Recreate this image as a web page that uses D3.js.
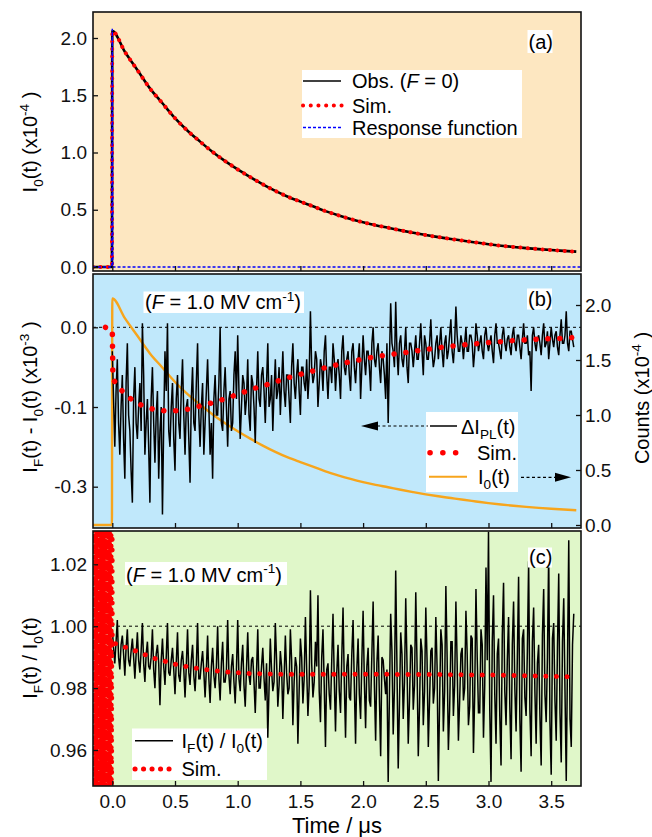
<!DOCTYPE html>
<html>
<head>
<meta charset="utf-8">
<script src="https://cdn.jsdelivr.net/npm/d3@7"></script>
<style>
  body { margin: 0; background: #fff; }
  svg { display: block; font-family: Arial, "Liberation Sans", sans-serif; }
</style>
</head>
<body>
<svg id="chart" width="652" height="837"></svg>
<script>
// ---- data ----
// I0(t) decay, x10^-4 counts (panel a, and orange trace in panel b)
const decayT = [-0.154, -0.003, 0.0, 0.1, 0.2, 0.3, 0.4, 0.5, 0.6, 0.7, 0.8, 0.9, 1.0, 1.1, 1.2, 1.3, 1.4, 1.5, 1.6, 1.7, 1.8, 1.9,
  2.0, 2.1, 2.2, 2.3, 2.4, 2.5, 2.6, 2.7, 2.8, 2.9, 3.0, 3.1, 3.2, 3.3, 3.4, 3.5, 3.6, 3.7];
const decayI0 = [0, 0, 2.06, 1.88, 1.72, 1.56, 1.43, 1.30, 1.19, 1.095, 1.005, 0.925, 0.852, 0.785, 0.722, 0.665, 0.614, 0.571, 0.53, 0.488, 0.452, 0.419,
  0.39, 0.365, 0.343, 0.32, 0.299, 0.279, 0.261, 0.245, 0.229, 0.214, 0.199, 0.186, 0.175, 0.165, 0.156, 0.148, 0.141, 0.134];

// instrument response function
const respT = [-0.154, -0.003, 0.0, 0.004, 3.74];
const respV = [0, 0, 2.08, 0, 0];

// panel b: simulated dI_PL (x10^-3)
const simBT = [-0.055, 0.0, 0.005, 0.06, 0.14, 0.23, 0.33, 0.42, 0.51, 0.61, 0.70, 0.79, 0.885, 0.98, 1.07, 1.16, 1.26, 1.35, 1.44,
  1.54, 1.63, 1.72, 1.82, 1.91, 2.0, 2.09, 2.19, 2.29, 2.38, 2.47, 2.57, 2.66, 2.75, 2.85, 2.94, 3.03, 3.13, 3.22, 3.32, 3.41, 3.50, 3.60, 3.69];
const simBV = [0, -0.003, -0.065, -0.077, -0.089, -0.0975, -0.103, -0.105, -0.1046, -0.1025, -0.0988, -0.095, -0.0904, -0.0853, -0.080,
  -0.0753, -0.0707, -0.0657, -0.0615, -0.0573, -0.0536, -0.0498, -0.046, -0.0427, -0.040, -0.037, -0.0348, -0.0327, -0.0306, -0.0285,
  -0.0264, -0.0243, -0.023, -0.0213, -0.020, -0.0188, -0.0176, -0.0163, -0.0155, -0.0147, -0.0143, -0.0138, -0.0126];

// panel b: observed dI_PL at t = 0, 0.02, 0.04 ... us
const obsB = [
  -0.03, -0.15, -0.04, -0.16, -0.06, -0.19, -0.02, -0.13, -0.22, -0.05,
  -0.14, -0.07, 0.005, -0.16, -0.09, -0.22, -0.05, -0.17, -0.08, -0.13,
  -0.235, -0.03, 0.005, -0.15, -0.07, -0.18, -0.06, -0.14, -0.04, -0.16,
  -0.09, -0.195, -0.05, -0.13, -0.02, -0.15, -0.07, -0.12, -0.04, -0.16,
  -0.19, -0.06, -0.11, 0.0, -0.13, -0.05, -0.15, -0.08, -0.12, -0.03,
  -0.01, -0.14, -0.06, -0.11, -0.04, -0.13, -0.07, -0.145, -0.03, -0.10,
  -0.05, -0.12, -0.02, -0.09, -0.13, -0.04, -0.08, -0.11, -0.03, -0.10,
  -0.06, -0.12, -0.02, -0.09, -0.04, -0.11, -0.05, -0.08, -0.09, 0.02,
  -0.07, -0.03, -0.10, -0.04, -0.08, -0.01, -0.09, -0.05, -0.02, -0.08,
  -0.04, -0.09, -0.01, -0.06, -0.03, -0.08, -0.02, -0.07, -0.04, -0.09,
  -0.01, -0.06, -0.03, -0.08, 0.00, -0.05, -0.02, -0.07, -0.04, -0.09,
  -0.12, 0.03, -0.03, 0.032, -0.06, -0.01, -0.05, 0.00, -0.07, -0.02,
  -0.05, -0.01, -0.04, 0.005, -0.06, -0.02, -0.04, 0.01, -0.05, -0.02,
  -0.04, 0.00, -0.05, -0.01, -0.03, 0.01, -0.045, 0.026, -0.03, -0.01,
  -0.04, 0.00, -0.03, -0.01, -0.05, 0.005, -0.03, -0.01, -0.04, 0.00,
  -0.03, -0.01, -0.045, 0.005, -0.02, -0.04, 0.00, -0.03, -0.01, -0.035,
  0.00, -0.03, -0.01, -0.04, 0.005, -0.02, -0.035, -0.08, 0.00, -0.03,
  -0.01, -0.035, 0.005, -0.02, -0.04, 0.00, -0.025, -0.005, -0.035, 0.01,
  -0.02, 0.02, -0.03, -0.005, -0.025
];
// panel b: observed dI_PL at t = 0.01, 0.03, 0.05 ... us
const obsBMid = [
  -0.09, -0.08, -0.12, -0.10, -0.14, -0.07, -0.11, -0.18, -0.09, -0.12,
  -0.10, -0.13, -0.06, -0.12, -0.15, -0.09, -0.12, -0.11, -0.19, -0.10,
  -0.12, -0.08, -0.13, -0.10, -0.14, -0.09, -0.12, -0.08, -0.11, -0.10,
  -0.14, -0.09, -0.12, -0.07, -0.11, -0.10, -0.16, -0.08, -0.10, -0.12,
  -0.09, -0.11, -0.07, -0.12, -0.08, -0.10, -0.09, -0.13, -0.06, -0.09,
  -0.08, -0.10, -0.07, -0.09, -0.11, -0.06, -0.10, -0.08, -0.09, -0.06,
  -0.08, -0.07, -0.10, -0.06, -0.08, -0.09, -0.05, -0.07, -0.08, -0.06,
  -0.09, -0.05, -0.07, -0.06, -0.08, -0.05, -0.07, -0.04, -0.06, -0.05,
  -0.06, -0.04, -0.07, -0.05, -0.03, -0.06, -0.05, -0.07, -0.04, -0.05,
  -0.06, -0.03, -0.05, -0.04, -0.06, -0.03, -0.05, -0.04, -0.02, -0.05,
  -0.04, -0.03, -0.05, -0.02, -0.04, -0.03, -0.05, -0.03, -0.06, -0.02,
  -0.04, -0.02, -0.05, -0.03, -0.02, -0.04, -0.03, -0.05, -0.02, -0.03,
  -0.03, -0.04, -0.02, -0.03, -0.01, -0.04, -0.02, -0.03, -0.04, -0.01,
  -0.02, -0.03, -0.02, -0.04, -0.01, -0.03, -0.02, -0.01, -0.03, -0.02,
  -0.02, -0.03, -0.01, -0.02, -0.03, -0.01, -0.02, -0.03, -0.01, -0.02,
  -0.02, -0.03, -0.01, -0.02, -0.03, -0.01, -0.02, -0.015, -0.025, -0.01,
  -0.02, -0.01, -0.025, -0.015, -0.02, -0.01, -0.03, -0.01, -0.02, -0.015,
  -0.02, -0.01, -0.025, -0.005, -0.02, -0.015, -0.01, -0.025, -0.01, -0.02,
  -0.01, -0.02, -0.005, -0.015
];

// panel c: simulated IF/I0 (negative times blow up)
const simCT = [-0.152, -0.147, -0.142, -0.137, -0.132, -0.127, -0.122, -0.117, -0.112, -0.107, -0.102, -0.097, -0.092, -0.087, -0.082,
  -0.077, -0.072, -0.067, -0.062, -0.057, -0.052, -0.047, -0.042, -0.037, -0.032, -0.027, -0.022, -0.017, -0.012, -0.007, -0.002,
  0.0, 0.02, 0.17, 0.34, 0.53, 0.73, 0.91, 1.10, 1.36, 1.84, 2.5, 3.07, 3.70];
const simCV = [1.12, 0.87, 1.09, 0.90, 1.15, 0.86, 1.10, 0.89, 1.13, 0.88, 1.08, 0.91, 1.14, 0.87, 1.11,
  0.89, 1.12, 0.86, 1.09, 0.90, 1.13, 0.88, 1.10, 0.87, 1.12, 0.91, 1.08, 0.88, 1.14, 0.89, 1.10,
  0.9950, 0.9944, 0.99225, 0.98956, 0.9874, 0.9860, 0.98524, 0.9847, 0.9845, 0.9845, 0.9844, 0.9842, 0.98362];

// panel c: observed IF/I0 at t = 0, 0.02, 0.04 ... us
const obsC = [
  0.999, 0.988, 1.002, 0.986, 0.997, 0.984, 0.999, 0.987, 0.996, 0.983,
  0.998, 0.985, 1.001, 0.982, 0.995, 0.986, 0.999, 0.980, 0.994, 0.9745,
  0.996, 0.981, 1.001, 0.984, 0.993, 0.978, 0.998, 0.982, 0.992, 0.977,
  0.999, 0.981, 0.994, 0.979, 1.001, 0.983, 0.992, 0.977, 0.997, 0.9752,
  0.993, 0.980, 1.000, 0.976, 0.995, 0.982, 1.002, 0.978, 0.991, 0.975,
  1.002, 0.979, 0.994, 0.974, 0.998, 0.981, 0.990, 0.972, 0.999, 0.980,
  0.993, 0.976, 0.964, 0.996, 0.979, 1.001, 0.974, 0.992, 0.970, 0.997,
  0.978, 0.999, 0.968, 0.990, 0.962, 0.996, 0.975, 1.003, 0.971, 1.0116,
  0.977, 0.995, 1.010, 0.969, 0.999, 0.961, 0.988, 0.973, 1.004, 0.966,
  0.994, 0.972, 1.006, 0.964, 0.991, 0.976, 1.002, 0.962, 0.996, 0.970,
  1.005, 0.967, 0.993, 0.974, 1.008, 0.963, 0.997, 0.958, 0.989, 0.978,
  0.9497, 1.004, 0.965, 1.018, 0.954, 0.998, 0.970, 1.009, 0.962, 0.994,
  0.973, 1.011, 0.958, 0.996, 0.968, 1.006, 0.961, 0.992, 0.975, 1.003,
  0.950, 0.999, 0.966, 1.013, 0.960, 0.995, 0.971, 1.008, 0.963, 0.991,
  0.976, 1.005, 0.968, 0.997, 0.959, 1.012, 0.972, 0.999, 0.964, 1.019,
  1.0305, 0.9497, 1.010, 0.962, 0.996, 0.955, 1.014, 0.968, 1.003, 0.957,
  1.008, 0.966, 1.016, 0.953, 0.999, 0.971, 1.021, 0.958, 1.006, 0.962,
  0.994, 0.955, 1.012, 0.969, 1.024, 0.952, 1.001, 0.963, 1.017, 0.956,
  1.009, 0.950, 1.0278, 0.961, 1.004
];
// panel c: observed IF/I0 at t = 0.01, 0.03, 0.05 ... us
const obsCMid = [
  0.993, 0.995, 0.990, 0.994, 0.991, 0.993, 0.989, 0.992, 0.990, 0.991,
  0.989, 0.992, 0.988, 0.991, 0.987, 0.990, 0.986, 0.991, 0.988, 0.989,
  0.987, 0.990, 0.985, 0.989, 0.986, 0.988, 0.984, 0.989, 0.986, 0.987,
  0.985, 0.989, 0.984, 0.987, 0.983, 0.988, 0.985, 0.986, 0.983, 0.987,
  0.984, 0.987, 0.983, 0.988, 0.982, 0.986, 0.984, 0.987, 0.982, 0.986,
  0.983, 0.988, 0.981, 0.986, 0.984, 0.989, 0.982, 0.985, 0.980, 0.987,
  0.983, 0.988, 0.980, 0.986, 0.982, 0.989, 0.981, 0.987, 0.983, 0.985,
  0.980, 0.989, 0.982, 0.987, 0.979, 0.990, 0.983, 0.986, 0.981, 0.988,
  0.982, 0.987, 0.979, 0.990, 0.981, 0.986, 0.978, 0.989, 0.983, 0.985,
  0.979, 0.990, 0.982, 0.987, 0.977, 0.991, 0.981, 0.986, 0.978, 0.989,
  0.982, 0.987, 0.976, 0.991, 0.981, 0.988, 0.977, 0.990, 0.983, 0.986,
  0.978, 0.992, 0.980, 0.987, 0.975, 0.991, 0.982, 0.988, 0.976, 0.993,
  0.981, 0.988, 0.974, 0.992, 0.979, 0.989, 0.976, 0.993, 0.980, 0.987,
  0.975, 0.994, 0.979, 0.990, 0.973, 0.995, 0.981, 0.988, 0.976, 0.993,
  0.980, 0.991, 0.974, 0.996, 0.978, 0.990, 0.972, 0.994, 0.981, 0.989,
  0.973, 0.995, 0.978, 0.991, 0.971, 0.997, 0.979, 0.989, 0.974, 0.994,
  0.980, 0.990, 0.970, 0.996, 0.977, 0.992, 0.973, 0.995, 0.979, 0.988,
  0.971, 0.997, 0.978, 0.990, 0.969, 0.996, 0.976, 0.993, 0.972, 0.995,
  0.979, 0.989, 0.970, 0.994
];
const obsStep = 0.02;

// ticks
const xTicks = [0, 0.5, 1, 1.5, 2, 2.5, 3, 3.5];
const aTicks = [0, 0.5, 1, 1.5, 2];
const bLeftTicks = [0, -0.1, -0.2];
const bLeftLabels = ["0.0", "-0.1", "-0.3"];
const bRightTicks = [0, 0.5, 1, 1.5, 2];
const cTicks = [0.96, 0.98, 1.00, 1.02];

// ---- layout ----
const svg = d3.select("#chart");
const L = 93, R = 581;
const pa = { top: 12, bottom: 271, fill: "#fde7c1" };
const pb = { top: 274, bottom: 528, fill: "#c0e8fb" };
const pc = { top: 531, bottom: 786, fill: "#e0f7c9" };

const x = d3.scaleLinear().domain([0, 3.5]).range([112.3, 551.2]);
const ya = d3.scaleLinear().domain([0, 2]).range([267, 38]);
const ybL = d3.scaleLinear().domain([0, -0.1]).range([327.3, 407]);
const ybR = d3.scaleLinear().domain([0, 2]).range([525, 305]);
const yc = d3.scaleLinear().domain([0.96, 1.02]).range([750, 564.3]);

const RED = "#ff0000", BLUE = "#0000ff", ORANGE = "#f7a51c";

function path(ts, vs, y, curve) {
  const ln = d3.line().x(d => x(d[0])).y(d => y(d[1]));
  if (curve) ln.curve(curve);
  return ln(ts.map((t, i) => [t, vs[i]]));
}

// interleave the even- and odd-sample arrays into one trace
function merge(even, odd) {
  const ts = [], vs = [];
  even.forEach((v, i) => {
    ts.push(i * obsStep); vs.push(v);
    if (i < odd.length) { ts.push(i * obsStep + obsStep / 2); vs.push(odd[i]); }
  });
  return [ts, vs];
}

function rich(sel, parts, fs) {
  let shift = 0;
  parts.forEach(([s, k]) => {
    const target = k === "sub" ? 0.28 * fs : k === "sup" ? -0.42 * fs : 0;
    const ts = sel.append("tspan").text(s).attr("dy", target - shift);
    if (k === "sub" || k === "sup") ts.attr("font-size", fs * 0.68);
    if (k === "i") ts.attr("font-style", "italic");
    shift = target;
  });
  return sel;
}

function panel(p, id) {
  svg.append("rect").attr("x", L).attr("y", p.top).attr("width", R - L).attr("height", p.bottom - p.top)
    .attr("fill", p.fill);
  svg.append("clipPath").attr("id", id).append("rect")
    .attr("x", L).attr("y", p.top).attr("width", R - L).attr("height", p.bottom - p.top);
  return svg.append("g").attr("clip-path", `url(#${id})`);
}

function frame(p) {
  svg.append("rect").attr("x", L).attr("y", p.top).attr("width", R - L).attr("height", p.bottom - p.top)
    .attr("fill", "none").attr("stroke", "#111").attr("stroke-width", 1.6);
}

function styleAxis(g) {
  g.select(".domain").remove();
  g.selectAll(".tick line").attr("stroke", "#111").attr("stroke-width", 1.3);
  g.selectAll(".tick text").attr("font-size", 19).attr("fill", "#111")
    .attr("font-family", 'Arial, "Liberation Sans", sans-serif');
}

function xAxis(p, labels) {
  const g = svg.append("g").attr("transform", `translate(0,${p.bottom})`)
    .call(d3.axisBottom(x).tickValues(xTicks).tickSize(-5).tickPadding(9)
      .tickFormat(labels ? d3.format(".1f") : () => ""));
  styleAxis(g);
}

function yAxisLeft(y, ticks, fmt) {
  const g = svg.append("g").attr("transform", `translate(${L},0)`)
    .call(d3.axisLeft(y).tickValues(ticks).tickSize(-5).tickPadding(6).tickFormat(fmt));
  styleAxis(g);
}

function labelBox(px, py, w, h, txt) {
  svg.append("rect").attr("x", px).attr("y", py).attr("width", w).attr("height", h).attr("fill", "#fff");
  svg.append("text").attr("x", px + 1).attr("y", py + h - 4).attr("font-size", 20).text(txt);
}

// ================= panel (a) =================
const ga = panel(pa, "clipA");
ga.append("path").attr("d", path(decayT, decayI0, ya, d3.curveMonotoneX))
  .attr("fill", "none").attr("stroke", "#000").attr("stroke-width", 2.6);
ga.append("path").attr("d", path(decayT, decayI0, ya, d3.curveMonotoneX))
  .attr("fill", "none").attr("stroke", RED).attr("stroke-width", 4)
  .attr("stroke-linecap", "round").attr("stroke-dasharray", "0.1 7.3");
ga.append("path").attr("d", path(respT, respV, ya))
  .attr("fill", "none").attr("stroke", BLUE).attr("stroke-width", 1.5).attr("stroke-dasharray", "3 2");
frame(pa);
xAxis(pa, false);
yAxisLeft(ya, aTicks, d3.format(".1f"));

// legend (a)
svg.append("rect").attr("x", 302).attr("y", 70).attr("width", 220).attr("height", 68).attr("fill", "#fff");
const legA = [
  { y: 81, parts: [["Obs. ("], ["F", "i"], [" = 0)"]] },
  { y: 105.5, parts: [["Sim."]] },
  { y: 127.5, parts: [["Response function"]] }
];
svg.append("line").attr("x1", 303).attr("x2", 341).attr("y1", 81).attr("y2", 81).attr("stroke", "#000").attr("stroke-width", 1.5);
svg.append("line").attr("x1", 303).attr("x2", 342).attr("y1", 105.5).attr("y2", 105.5).attr("stroke", RED)
  .attr("stroke-width", 4).attr("stroke-linecap", "round").attr("stroke-dasharray", "0.1 7.6");
svg.append("line").attr("x1", 303).attr("x2", 341).attr("y1", 127.5).attr("y2", 127.5).attr("stroke", BLUE)
  .attr("stroke-width", 1.3).attr("stroke-dasharray", "3 2");
legA.forEach(r => rich(svg.append("text").attr("x", 352).attr("y", r.y + 7).attr("font-size", 20), r.parts, 20));
labelBox(527.5, 30, 25, 23, "(a)");

// ================= panel (b) =================
const gb = panel(pb, "clipB");
gb.append("line").attr("x1", L).attr("x2", R).attr("y1", ybL(0)).attr("y2", ybL(0))
  .attr("stroke", "#000").attr("stroke-width", 1).attr("stroke-dasharray", "3 3");
gb.append("path").attr("d", path(decayT, decayI0, ybR, d3.curveMonotoneX))
  .attr("fill", "none").attr("stroke", ORANGE).attr("stroke-width", 2.4);
const [bT, bV] = merge(obsB, obsBMid);
gb.append("path").attr("d", path(bT, bV, ybL))
  .attr("fill", "none").attr("stroke", "#000").attr("stroke-width", 1.5);
gb.append("path").attr("d", path(simBT, simBV, ybL))
  .attr("fill", "none").attr("stroke", RED).attr("stroke-width", 5.5)
  .attr("stroke-linecap", "round").attr("stroke-dasharray", "0.1 11.8");
frame(pb);
xAxis(pb, false);
yAxisLeft(ybL, bLeftTicks, (d, i) => bLeftLabels[i]);
const gR = svg.append("g").attr("transform", `translate(${R},0)`)
  .call(d3.axisRight(ybR).tickValues(bRightTicks).tickSize(-5).tickPadding(4).tickFormat(d3.format(".1f")));
styleAxis(gR);

svg.append("rect").attr("x", 143.5).attr("y", 291.5).attr("width", 160.5).attr("height", 21.5).attr("fill", "#fff");
rich(svg.append("text").attr("x", 145).attr("y", 309).attr("font-size", 20),
  [["("], ["F", "i"], [" = 1.0 MV cm"], ["-1", "sup"], [")"]], 20);
labelBox(527, 288.5, 25, 21, "(b)");

// legend (b)
svg.append("rect").attr("x", 426).attr("y", 412).attr("width", 92).attr("height", 80).attr("fill", "#fff");
svg.append("line").attr("x1", 430).attr("x2", 457).attr("y1", 426).attr("y2", 426).attr("stroke", "#000").attr("stroke-width", 1.5);
svg.append("line").attr("x1", 430).attr("x2", 458).attr("y1", 452.7).attr("y2", 452.7).attr("stroke", RED)
  .attr("stroke-width", 5.5).attr("stroke-linecap", "round").attr("stroke-dasharray", "0.1 12.7");
svg.append("line").attr("x1", 429).attr("x2", 467).attr("y1", 476.7).attr("y2", 476.7).attr("stroke", ORANGE).attr("stroke-width", 2);
rich(svg.append("text").attr("x", 461).attr("y", 433.5).attr("font-size", 20), [["ΔI"], ["PL", "sub"], ["(t)"]], 20);
svg.append("text").attr("x", 477).attr("y", 459.5).attr("font-size", 20).text("Sim.");
rich(svg.append("text").attr("x", 478).attr("y", 483.5).attr("font-size", 20), [["I"], ["0", "sub"], ["(t)"]], 20);
// arrows
svg.append("line").attr("x1", 377).attr("x2", 428).attr("y1", 426).attr("y2", 426)
  .attr("stroke", "#000").attr("stroke-width", 1.2).attr("stroke-dasharray", "3 2.5");
svg.append("path").attr("d", "M361,426 L378,421.5 L378,430.5 Z").attr("fill", "#000");
svg.append("line").attr("x1", 521).attr("x2", 556).attr("y1", 477.3).attr("y2", 477.3)
  .attr("stroke", "#000").attr("stroke-width", 1.2).attr("stroke-dasharray", "3 2.5");
svg.append("path").attr("d", "M571,477.3 L555,472.8 L555,481.8 Z").attr("fill", "#000");

// ================= panel (c) =================
const gc = panel(pc, "clipC");
gc.append("line").attr("x1", L).attr("x2", R).attr("y1", yc(1)).attr("y2", yc(1))
  .attr("stroke", "#000").attr("stroke-width", 1).attr("stroke-dasharray", "3 3");
const [cT, cV] = merge(obsC, obsCMid);
gc.append("path").attr("d", path(cT, cV, yc))
  .attr("fill", "none").attr("stroke", "#000").attr("stroke-width", 1.5);
gc.append("path").attr("d", path(simCT, simCV, yc))
  .attr("fill", "none").attr("stroke", RED).attr("stroke-width", 5)
  .attr("stroke-linecap", "round").attr("stroke-dasharray", "0.1 10.5");
frame(pc);
xAxis(pc, true);
yAxisLeft(yc, cTicks, d3.format(".2f"));

svg.append("rect").attr("x", 125).attr("y", 562).attr("width", 162).attr("height", 23).attr("fill", "#fff");
rich(svg.append("text").attr("x", 126).attr("y", 581.5).attr("font-size", 20),
  [["("], ["F", "i"], [" = 1.0 MV cm"], ["-1", "sup"], [")"]], 20);
labelBox(528, 547.5, 24, 20, "(c)");

// legend (c)
svg.append("rect").attr("x", 132).attr("y", 728.5).attr("width", 135).attr("height", 51.5).attr("fill", "#fff");
svg.append("line").attr("x1", 135).attr("x2", 173).attr("y1", 740.7).attr("y2", 740.7).attr("stroke", "#000").attr("stroke-width", 1.5);
svg.append("line").attr("x1", 135).attr("x2", 170).attr("y1", 769).attr("y2", 769).attr("stroke", RED)
  .attr("stroke-width", 5).attr("stroke-linecap", "round").attr("stroke-dasharray", "0.1 8.4");
rich(svg.append("text").attr("x", 181.5).attr("y", 747.5).attr("font-size", 20),
  [["I"], ["F", "sub"], ["(t) / I"], ["0", "sub"], ["(t)"]], 20);
svg.append("text").attr("x", 181.5).attr("y", 776).attr("font-size", 20).text("Sim.");

// ================= axis titles =================
rich(svg.append("text").attr("transform", "translate(37,142) rotate(-90)").attr("text-anchor", "middle").attr("font-size", 20),
  [["I"], ["0", "sub"], ["(t) (x10"], ["-4", "sup"], [" )"]], 20);
rich(svg.append("text").attr("transform", "translate(37,397) rotate(-90)").attr("text-anchor", "middle").attr("font-size", 20),
  [["I"], ["F", "sub"], ["(t) - I"], ["0", "sub"], ["(t) (x10"], ["-3", "sup"], [" )"]], 20);
rich(svg.append("text").attr("transform", "translate(649,398) rotate(-90)").attr("text-anchor", "middle").attr("font-size", 20),
  [["Counts (x10"], ["-4", "sup"], [" )"]], 20);
rich(svg.append("text").attr("transform", "translate(37,658) rotate(-90)").attr("text-anchor", "middle").attr("font-size", 20),
  [["I"], ["F", "sub"], ["(t) / I"], ["0", "sub"], ["(t)"]], 20);
svg.append("text").attr("x", 337).attr("y", 833).attr("text-anchor", "middle").attr("font-size", 22).text("Time / μs");
</script>
</body>
</html>
